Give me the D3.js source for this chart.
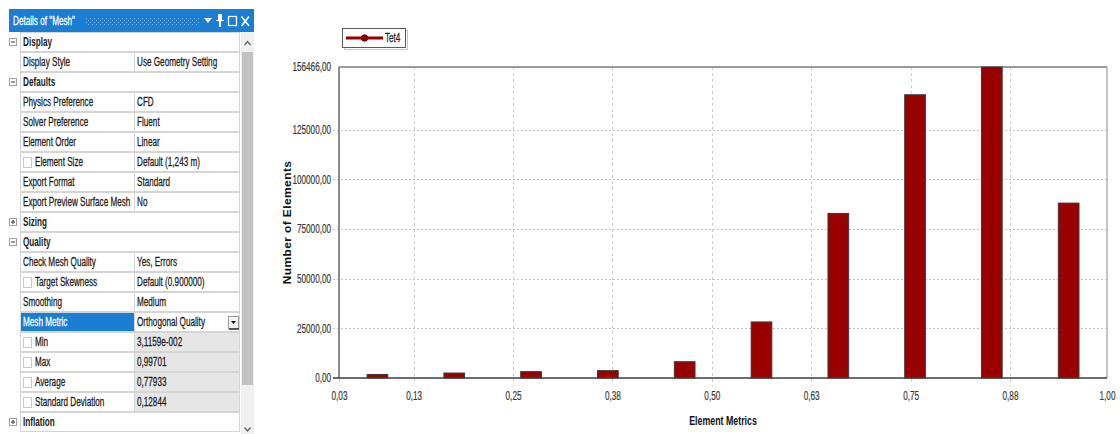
<!DOCTYPE html>
<html>
<head>
<meta charset="utf-8">
<script src="https://cdn.jsdelivr.net/npm/d3@7"></script>
<style>
  html, body { margin: 0; padding: 0; background: #fff; }
  svg { display: block; font-family: "Liberation Sans", Arial, sans-serif; }
</style>
</head>
<body>
<svg id="view" width="1120" height="434"></svg>
<script>
// ---- histogram data: Orthogonal Quality of the Tet4 mesh ----
const metricCenters = [0.0795, 0.1761, 0.2727, 0.3693, 0.4659, 0.5625, 0.6591, 0.7556, 0.8522, 0.9488];
const elementCounts = [1800, 2500, 3200, 3700, 8200, 28200, 82800, 142500, 156466, 88000];
const seriesName = "Tet4";

// axis ticks (metric range runs from the min to the max quality)
const xTickValues = [0.031159, 0.125, 0.25, 0.375, 0.5, 0.625, 0.75, 0.875, 0.99701];
const xTickLabels = ["0,03", "0,13", "0,25", "0,38", "0,50", "0,63", "0,75", "0,88", "1,00"];
const yTickValues = [0, 25000, 50000, 75000, 100000, 125000, 156466];
const yTickLabels = ["0,00", "25000,00", "50000,00", "75000,00", "100000,00", "125000,00", "156466,00"];

// ---- details panel rows: [kind, label, value] ----
const panelKinds  = ["cat-open", "prop", "cat-open", "prop", "prop", "prop", "check", "prop", "prop", "cat-closed",
                     "cat-open", "prop", "check", "prop", "select", "readonly", "readonly", "readonly", "readonly", "cat-closed"];
const panelLabels = ["Display", "Display Style", "Defaults", "Physics Preference", "Solver Preference", "Element Order",
                     "Element Size", "Export Format", "Export Preview Surface Mesh", "Sizing", "Quality",
                     "Check Mesh Quality", "Target Skewness", "Smoothing", "Mesh Metric", "Min", "Max", "Average",
                     "Standard Deviation", "Inflation"];
const panelValues = ["", "Use Geometry Setting", "", "CFD", "Fluent", "Linear", "Default (1,243 m)", "Standard", "No", "",
                     "", "Yes, Errors", "Default (0.900000)", "Medium", "Orthogonal Quality", "3,1159e-002", "0,99701",
                     "0,77933", "0,12844", ""];

const SX = 0.68;          // narrow UI lettering
const BLUE = "#1a7ed3";
const svg = d3.select("#view");

function label(g, x, y, s, o = {}) {
  const fill = o.fill || "#1a1a1a";
  return g.append("text")
    .attr("transform", `translate(${x},${y}) scale(${SX},1)`)
    .attr("font-size", o.size || 12)
    .attr("font-weight", o.weight || "normal")
    .attr("fill", fill)
    .attr("stroke", o.weight === "bold" ? "none" : fill)
    .attr("stroke-width", 0.25)
    .attr("text-anchor", o.anchor || "start")
    .text(s);
}

// =================== details panel ===================
const panel = svg.append("g");
const rowTop = 32, rowH = 20, c0 = 20, c1 = 134, c2 = 240;

// title bar
panel.append("rect").attr("x", 9).attr("y", 9).attr("width", 245).attr("height", 23).attr("fill", BLUE);
label(panel, 13, 25, "Details of \"Mesh\"", { fill: "#ffffff", size: 12 });
const dots = panel.append("g").attr("fill", "#6fb0e8");
d3.range(86, 200, 2).forEach((x, i) => {
  dots.append("rect").attr("x", x).attr("y", 18 + (i % 2) * 2).attr("width", 1).attr("height", 1);
  dots.append("rect").attr("x", x).attr("y", 22 + (i % 2) * 2).attr("width", 1).attr("height", 1);
});
panel.append("path").attr("d", "M204,18 L212,18 L208,23 Z").attr("fill", "#fff");
panel.append("path").attr("d", "M218,14 h4 v6 h2 v1 h-3 v6 h-2 v-6 h-3 v-1 h2 Z").attr("fill", "#fff");
panel.append("rect").attr("x", 228.5).attr("y", 16.5).attr("width", 8).attr("height", 9)
  .attr("fill", "none").attr("stroke", "#fff").attr("stroke-width", 1.3);
panel.append("path").attr("d", "M241.5,16.5 L249,26 M249,16.5 L241.5,26").attr("stroke", "#fff").attr("stroke-width", 1.6);

panelKinds.forEach((kind, i) => {
  const y = rowTop + i * rowH, cy = y + rowH / 2 + 4;
  const row = panel.append("g");
  if (kind.startsWith("cat")) {
    row.append("rect").attr("x", c0 + 0.5).attr("y", y + 0.5).attr("width", c2 - c0 - 1).attr("height", rowH - 1)
      .attr("fill", "#fff").attr("stroke", "#d5d5d5");
    row.append("rect").attr("x", 9.5).attr("y", y + 6.5).attr("width", 7).attr("height", 7)
      .attr("fill", "#fff").attr("stroke", "#a0a0a0");
    row.append("line").attr("x1", 11).attr("x2", 15).attr("y1", y + 10).attr("y2", y + 10).attr("stroke", "#333");
    if (kind === "cat-closed")
      row.append("line").attr("x1", 13).attr("x2", 13).attr("y1", y + 8).attr("y2", y + 12).attr("stroke", "#333");
    label(row, 23, cy, panelLabels[i], { weight: "bold", size: 12 });
    return;
  }
  row.append("rect").attr("x", c0 + 0.5).attr("y", y + 0.5).attr("width", c1 - c0).attr("height", rowH - 1)
    .attr("fill", kind === "select" ? BLUE : "#fff").attr("stroke", "#d5d5d5");
  row.append("rect").attr("x", c1 + 0.5).attr("y", y + 0.5).attr("width", c2 - c1 - 1).attr("height", rowH - 1)
    .attr("fill", kind === "readonly" ? "#e6e6e6" : "#fff").attr("stroke", "#d5d5d5");
  const boxed = kind === "check" || kind === "readonly";
  if (boxed)
    row.append("rect").attr("x", 23.5).attr("y", y + 5.5).attr("width", 8).attr("height", 10)
      .attr("fill", "#fff").attr("stroke", "#c8c8c8");
  label(row, boxed ? 35 : 23, cy, panelLabels[i], { fill: kind === "select" ? "#fff" : "#1a1a1a" });
  label(row, 137, cy, panelValues[i]);
  if (kind === "select") {
    row.append("rect").attr("x", 228.5).attr("y", y + 4.5).attr("width", 10).attr("height", 12)
      .attr("fill", "#f4f4f4").attr("stroke", "#9a9a9a");
    row.append("line").attr("x1", 229).attr("x2", 239).attr("y1", y + 17).attr("y2", y + 17).attr("stroke", "#333").attr("stroke-width", 1.5);
    row.append("path").attr("d", `M231,${y + 9} L236,${y + 9} L233.5,${y + 12} Z`).attr("fill", "#111");
  }
});

// scrollbar
panel.append("rect").attr("x", 241).attr("y", 32).attr("width", 13).attr("height", 402).attr("fill", "#f0f0f0");
panel.append("rect").attr("x", 242).attr("y", 52).attr("width", 11).attr("height", 333).attr("fill", "#c2c2c2");
panel.append("path").attr("d", "M244.5,45 L247.5,41.5 L250.5,45").attr("fill", "none").attr("stroke", "#606060").attr("stroke-width", 1.2);
panel.append("path").attr("d", "M244.5,427.5 L247.5,431 L250.5,427.5").attr("fill", "none").attr("stroke", "#606060").attr("stroke-width", 1.2);

// =================== histogram ===================
const plot = { left: 339, right: 1107, top: 67, bottom: 378 };
const x = d3.scaleLinear().domain([xTickValues[0], xTickValues[xTickValues.length - 1]]).range([plot.left, plot.right]);
const y = d3.scaleLinear().domain([0, d3.max(elementCounts)]).range([plot.bottom, plot.top]);
const chart = svg.append("g");

// dashed grid
chart.append("g").selectAll("line").data(yTickValues.slice(1, -1)).join("line")
  .attr("x1", plot.left - 6).attr("x2", plot.right).attr("y1", d => Math.round(y(d)) + 0.5).attr("y2", d => Math.round(y(d)) + 0.5)
  .attr("stroke", "#c4c4c4").attr("stroke-dasharray", "2,2");
chart.append("g").selectAll("line").data(xTickValues.slice(0, -1)).join("line")
  .attr("x1", d => Math.round(x(d)) + 0.5).attr("x2", d => Math.round(x(d)) + 0.5)
  .attr("y1", plot.top).attr("y2", plot.bottom + 8)
  .attr("stroke", "#cfcfcf").attr("stroke-dasharray", "3,3");

// frame
chart.append("line").attr("x1", plot.left).attr("x2", plot.right).attr("y1", plot.top).attr("y2", plot.top)
  .attr("stroke", "#7a7a7a").attr("stroke-width", 1.5);
chart.append("line").attr("x1", plot.right).attr("x2", plot.right).attr("y1", plot.top).attr("y2", plot.bottom)
  .attr("stroke", "#b0b0b0").attr("stroke-width", 1.5);

// bars
const halfBar = 0.013;
chart.append("g").selectAll("rect").data(metricCenters).join("rect")
  .attr("x", d => x(d - halfBar))
  .attr("width", d => x(d + halfBar) - x(d - halfBar))
  .attr("y", (d, i) => y(elementCounts[i]))
  .attr("height", (d, i) => y(0) - y(elementCounts[i]))
  .attr("fill", "#990000").attr("stroke", "#3a3a3a").attr("stroke-width", 1);

// axes
chart.append("line").attr("x1", plot.left).attr("x2", plot.left).attr("y1", plot.top).attr("y2", plot.bottom)
  .attr("stroke", "#8a8a8a").attr("stroke-width", 2);
chart.append("line").attr("x1", plot.left - 6).attr("x2", plot.right).attr("y1", plot.bottom).attr("y2", plot.bottom)
  .attr("stroke", "#3c3c3c").attr("stroke-width", 1.5);

const tickStyle = sel => sel
  .attr("font-family", "Liberation Sans, Arial, sans-serif").attr("font-size", 12)
  .attr("fill", "#3a3a3a").attr("stroke", "#3a3a3a").attr("stroke-width", 0.2);

const yAxis = chart.append("g").attr("transform", `translate(${plot.left},0)`)
  .call(d3.axisLeft(y).tickValues(yTickValues).tickFormat((d, i) => yTickLabels[i]).tickSize(0).tickPadding(8));
yAxis.select(".domain").remove();
yAxis.selectAll("text").attr("x", -8 / SX).attr("transform", `scale(${SX},1)`).call(tickStyle);

const xAxis = chart.append("g").attr("transform", `translate(0,${plot.bottom})`)
  .call(d3.axisBottom(x).tickValues(xTickValues).tickFormat((d, i) => xTickLabels[i]).tickSize(0).tickPadding(13));
xAxis.select(".domain").remove();
xAxis.selectAll(".tick text").attr("transform", `scale(${SX},1)`).call(tickStyle);

// axis titles
label(chart, (plot.left + plot.right) / 2, 425, "Element Metrics", { weight: "bold", size: 13, anchor: "middle", fill: "#111" });
chart.append("text")
  .attr("transform", `translate(291,${(plot.top + plot.bottom) / 2}) rotate(-90) scale(1,0.95)`)
  .attr("text-anchor", "middle").attr("font-weight", "bold").attr("font-size", 12)
  .attr("letter-spacing", 0.4).attr("fill", "#111").text("Number of Elements");

// legend
const lg = chart.append("g");
lg.append("rect").attr("x", 344.5).attr("y", 30.5).attr("width", 63).attr("height", 19).attr("fill", "none").attr("stroke", "#c8c8c8");
lg.append("rect").attr("x", 342.5).attr("y", 28.5).attr("width", 63).attr("height", 19).attr("fill", "#fff").attr("stroke", "#5a5a5a");
lg.append("line").attr("x1", 346).attr("x2", 383).attr("y1", 38).attr("y2", 38).attr("stroke", "#990000").attr("stroke-width", 3);
lg.append("circle").attr("cx", 364.5).attr("cy", 38).attr("r", 3.2).attr("fill", "#990000").attr("stroke", "#5a0000");
label(lg, 385, 42, seriesName, { size: 12, fill: "#222" });
</script>
</body>
</html>
